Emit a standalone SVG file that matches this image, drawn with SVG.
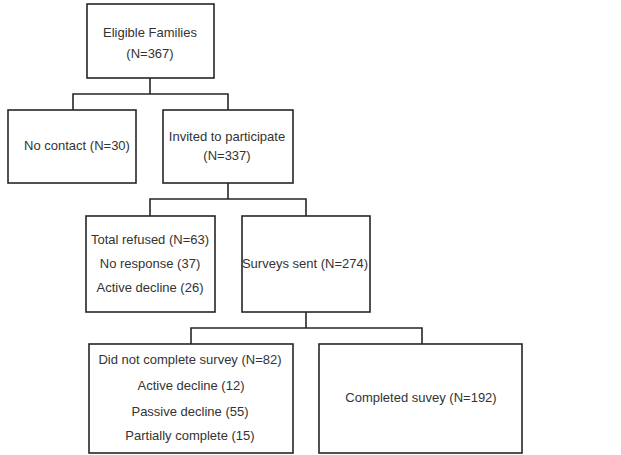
<svg xmlns="http://www.w3.org/2000/svg" width="621" height="455" viewBox="0 0 621 455">
<style>
.box{fill:#fff;stroke:#262626;stroke-width:1.6}
.ln{fill:none;stroke:#262626;stroke-width:1.6}
text{font-family:"Liberation Sans",Arial,sans-serif;font-size:13px;fill:#333;text-anchor:middle}
</style>
<rect width="621" height="455" fill="#fff"/>
<g id="connectors">
<path class="ln" d="M150,78 V94 M73,110 V94 H228 V110"/>
<path class="ln" d="M228,183 V199 M150,216 V199 H306 V216"/>
<path class="ln" d="M306,312 V328 M191,344 V328 H422 V344"/>
</g>
<g id="eligible">
<rect class="box" x="87" y="4" width="127" height="74"/>
<text x="150" y="37">Eligible Families</text>
<text x="150" y="58">(N=367)</text>
</g>
<g id="nocontact">
<rect class="box" x="8" y="110" width="128" height="73"/>
<text x="77" y="150">No contact (N=30)</text>
</g>
<g id="invited">
<rect class="box" x="163" y="110" width="130" height="73"/>
<text x="227" y="141">Invited to participate</text>
<text x="227" y="160">(N=337)</text>
</g>
<g id="refused">
<rect class="box" x="86" y="216" width="129" height="96"/>
<text x="150" y="244">Total refused (N=63)</text>
<text x="150" y="268">No response (37)</text>
<text x="150" y="292">Active decline (26)</text>
</g>
<g id="sent">
<rect class="box" x="242" y="216" width="128" height="96"/>
<text x="305" y="268">Surveys sent (N=274)</text>
</g>
<g id="notcomplete">
<rect class="box" x="89" y="344" width="204" height="109"/>
<text x="190" y="364">Did not complete survey (N=82)</text>
<text x="191" y="390">Active decline (12)</text>
<text x="190" y="416">Passive decline (55)</text>
<text x="190" y="440">Partially complete (15)</text>
</g>
<g id="completed">
<rect class="box" x="319" y="344" width="203" height="109"/>
<text x="421" y="402">Completed suvey (N=192)</text>
</g>
</svg>
